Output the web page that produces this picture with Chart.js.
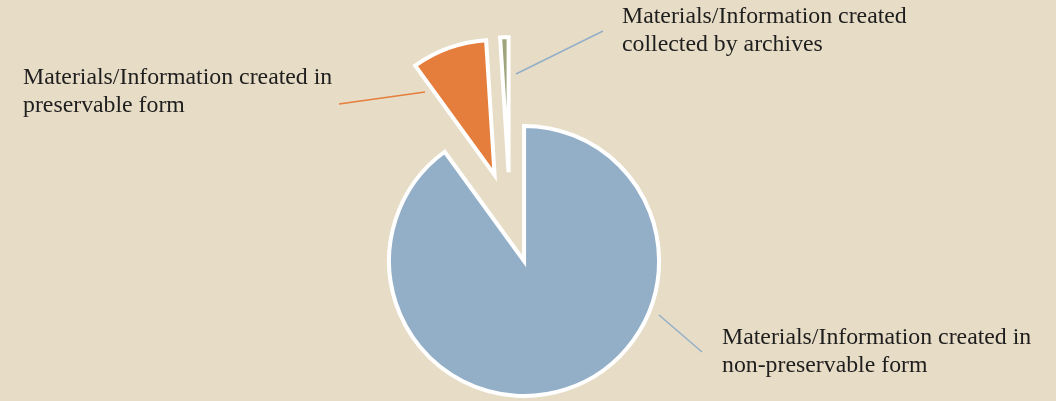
<!DOCTYPE html>
<html>
<head>
<meta charset="utf-8">
<script src="https://cdn.jsdelivr.net/npm/chart.js@4"></script>
<style>
  body { margin: 0; background: #E7DCC6; }
  #wrap { position: relative; width: 1056px; height: 401px; }
  #wrap canvas { position: absolute; left: 0; top: 0; }
</style>
</head>
<body>
<div id="wrap">
  <canvas id="slice0" width="1056" height="401"></canvas>
  <canvas id="slice1" width="1056" height="401"></canvas>
  <canvas id="slice2" width="1056" height="401"></canvas>
</div>
<script>
const categories = [
    'Materials/Information created in non-preservable form',
    'Materials/Information created in preservable form',
    'Materials/Information created collected by archives'
];
const shares = [90, 9, 1];
const sliceColors = ['#93AFC8', '#E57E3D', '#9FA47C'];
const labelLines = [
    ['Materials/Information created in', 'non-preservable form'],
    ['Materials/Information created in', 'preservable form'],
    ['Materials/Information created', 'collected by archives']
];

// layout of the exploded pie
const W = 1056, H = 401;
const pieX = 510, pieY = 217.7;
const explode = 45.5;
const pieRadius = 135;

// leader lines and label anchors (x, first baseline)
const leaders = [
    {from: [659, 315], to: [702, 352], color: '#93AFC8', text: [722, 344]},
    {from: [339, 104], to: [425, 92], color: '#E57E3D', text: [23, 84]},
    {from: [516, 74], to: [603, 31], color: '#93AFC8', text: [622, 23]}
];

const total = shares.reduce((a, b) => a + b, 0);

function midAngle(i) {
    let before = 0;
    for (let j = 0; j < i; j++) before += shares[j];
    return (before + shares[i] / 2) / total * Math.PI * 2;
}

const labelPlugin = {
    id: 'labels',
    afterDraw(chart) {
        const ctx = chart.ctx;
        ctx.save();
        leaders.forEach((l, i) => {
            ctx.strokeStyle = l.color;
            ctx.lineWidth = 1.5;
            ctx.beginPath();
            ctx.moveTo(l.from[0], l.from[1]);
            ctx.lineTo(l.to[0], l.to[1]);
            ctx.stroke();

            ctx.fillStyle = '#1E1E1E';
            ctx.font = '23.8px "Liberation Serif"';
            ctx.textBaseline = 'alphabetic';
            labelLines[i].forEach((t, k) => {
                ctx.fillText(t, l.text[0], l.text[1] + k * 27.5);
            });
        });
        ctx.restore();
    }
};

function drawSlice(i) {
    const a = midAngle(i);
    const cx = pieX + explode * Math.sin(a);
    const cy = pieY - explode * Math.cos(a);
    const hw = Math.min(cx, W - cx);
    const hh = Math.min(cy, H - cy);

    new Chart(document.getElementById('slice' + i), {
        type: 'pie',
        data: {
            labels: categories,
            datasets: [{
                data: shares,
                backgroundColor: sliceColors.map((c, j) => j === i ? c : 'rgba(0,0,0,0)'),
                borderColor: '#FFFFFF',
                borderWidth: shares.map((v, j) => j === i ? 4 : 0),
                borderJoinStyle: 'miter',
                clip: false
            }]
        },
        options: {
            responsive: false,
            animation: false,
            events: [],
            radius: pieRadius,
            layout: {
                padding: {left: cx - hw, right: W - cx - hw, top: cy - hh, bottom: H - cy - hh}
            },
            plugins: {
                legend: {display: false},
                tooltip: {enabled: false}
            }
        },
        plugins: i === shares.length - 1 ? [labelPlugin] : []
    });
}

window.onload = function() {
    for (let i = 0; i < shares.length; i++) drawSlice(i);
};
</script>
</body>
</html>
